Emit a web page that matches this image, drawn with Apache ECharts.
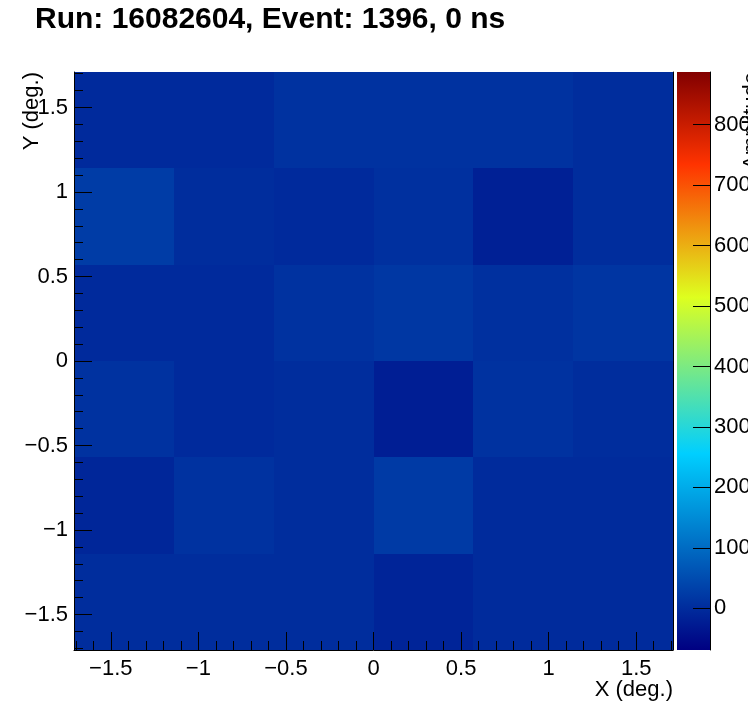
<!DOCTYPE html>
<html>
<head>
<meta charset="utf-8">
<script src="https://cdn.jsdelivr.net/npm/echarts@6/dist/echarts.min.js"></script>
<style>
html,body{margin:0;padding:0;background:#fff;}
#chart{width:748px;height:724px;}
</style>
</head>
<body>
<div id="chart"></div>
<script>
// ---- data ----
const titleText = 'Run: 16082604, Event: 1396, 0 ns';
const xEdges = [-1.71, -1.14, -0.57, 0, 0.57, 1.14, 1.71];
const yEdges = [-1.71, -1.14, -0.57, 0, 0.57, 1.14, 1.71];
// amplitude per cell, rows from bottom (y bin 1) to top (y bin 6), columns left to right
const row1 = [2, 2, 2, -12, -1, -1];
const row2 = [-9, 9, 2, 22, -1, -1];
const row3 = [9, -3, 2, -22, 9, 2];
const row4 = [-3, -3, 9, 17, 6, 13];
const row5 = [25, 2, -3, 6, -19, 2];
const row6 = [-3, -3, 9, 9, 9, 2];
const rows = [row1, row2, row3, row4, row5, row6];
const zMin = -69, zMax = 887;
const xMajorTicks = [-1.5, -1, -0.5, 0, 0.5, 1, 1.5];
const yMajorTicks = [-1.5, -1, -0.5, 0, 0.5, 1, 1.5];
const xMinorTicks = [-1.7,-1.6,-1.4,-1.3,-1.2,-1.1,-0.9,-0.8,-0.7,-0.6,-0.4,-0.3,-0.2,-0.1,0.1,0.2,0.3,0.4,0.6,0.7,0.8,0.9,1.1,1.2,1.3,1.4,1.6,1.7];
const yMinorTicks = xMinorTicks.slice();
const zTicks = [0, 100, 200, 300, 400, 500, 600, 700, 800];
const xTitle = 'X (deg.)', yTitle = 'Y (deg.)', zTitle = 'Amplitude';

// ---- palette (ROOT-style 5 stop gradient) ----
const palStops = [0.00, 0.34, 0.61, 0.84, 1.00];
const palRGB = [[0,0,130],[0,207,255],[222,255,31],[255,51,0],[130,0,0]];
function palAt(f){
  for (let i=0;i<palStops.length-1;i++){
    if (f<=palStops[i+1]){
      const t=(f-palStops[i])/(palStops[i+1]-palStops[i]);
      const c=palRGB[i].map((a,k)=>Math.round(a+(palRGB[i+1][k]-a)*t));
      return 'rgb('+c.join(',')+')';
    }
  }
  return 'rgb('+palRGB[palRGB.length-1].join(',')+')';
}
const paletteColors=[];
for (let i=0;i<=255;i++) paletteColors.push(palAt(i/255));
// gradient for the colour bar (top = zMax, bottom = zMin)
const barStops = palStops.map((s,i)=>({offset:1-s, color:'rgb('+palRGB[i].join(',')+')'})).reverse();

const cells=[];
rows.forEach((r,j)=>r.forEach((v,i)=>cells.push([xEdges[i],xEdges[i+1],yEdges[j],yEdges[j+1],v])));

const FONT='"Liberation Sans", Arial, Helvetica, sans-serif';
const minusFmt = v => String(v).replace('-', '\u2212');
const lbl = {fontFamily: FONT, fontSize: 22, color: '#000'};

const chart = echarts.init(document.getElementById('chart'), null, {renderer:'canvas'});
chart.setOption({
  animation: false,
  backgroundColor: '#fff',
  grid: [
    {left: 74, top: 72, width: 599, height: 578, show:false, containLabel:false, outerBoundsMode:'none'},
    {left: 677, top: 72, width: 33, height: 578, show:false, containLabel:false, outerBoundsMode:'none'}
  ],
  xAxis: [
    {type:'value', gridIndex:0, min:xEdges[0], max:xEdges[6], position:'bottom', z:10,
     axisLine:{show:true, onZero:false, lineStyle:{color:'#000', width:1}},
     axisTick:{show:true, inside:true, length:18, customValues:xMajorTicks, lineStyle:{color:'#000'}},
     axisLabel:Object.assign({show:true, margin:8, customValues:xMajorTicks, formatter:minusFmt}, lbl),
     splitLine:{show:false}},
    {type:'value', gridIndex:0, min:xEdges[0], max:xEdges[6], position:'bottom', z:10,
     axisLine:{show:false, onZero:false},
     axisTick:{show:true, inside:true, length:9, customValues:xMinorTicks, lineStyle:{color:'#000'}},
     axisLabel:{show:false}, splitLine:{show:false}},
    {type:'value', gridIndex:1, min:0, max:1, show:false}
  ],
  yAxis: [
    {type:'value', gridIndex:0, min:yEdges[0], max:yEdges[6], position:'left', z:10,
     axisLine:{show:true, onZero:false, lineStyle:{color:'#000', width:1}},
     axisTick:{show:true, inside:true, length:18, customValues:yMajorTicks, lineStyle:{color:'#000'}},
     axisLabel:Object.assign({show:true, margin:6, customValues:yMajorTicks, formatter:minusFmt}, lbl),
     splitLine:{show:false}},
    {type:'value', gridIndex:0, min:yEdges[0], max:yEdges[6], position:'left', z:10,
     axisLine:{show:false, onZero:false},
     axisTick:{show:true, inside:true, length:9, customValues:yMinorTicks, lineStyle:{color:'#000'}},
     axisLabel:{show:false}, splitLine:{show:false}},
    {type:'value', gridIndex:0, min:yEdges[0], max:yEdges[6], position:'right', z:10,
     axisLine:{show:true, onZero:false, lineStyle:{color:'#000', width:1}},
     axisTick:{show:false}, axisLabel:{show:false}, splitLine:{show:false}},
    {type:'value', gridIndex:1, min:zMin, max:zMax, position:'right', z:10,
     axisLine:{show:true, onZero:false, lineStyle:{color:'#000', width:1}},
     axisTick:{show:true, inside:true, length:17, customValues:zTicks, lineStyle:{color:'#000'}},
     axisLabel:Object.assign({show:true, margin:4, customValues:zTicks}, lbl),
     splitLine:{show:false}}
  ],
  visualMap: {
    type:'continuous', show:false, min:zMin, max:zMax, dimension:4, seriesIndex:0,
    inRange:{color:paletteColors}
  },
  series: [{
    type:'custom', xAxisIndex:0, yAxisIndex:0, silent:true, clip:true,
    encode:{x:[0,1], y:[2,3]},
    data: cells,
    renderItem: function(params, api){
      const p0 = api.coord([api.value(0), api.value(3)]);
      const p1 = api.coord([api.value(1), api.value(2)]);
      const x0=Math.round(p0[0]), y0=Math.round(p0[1]), x1=Math.round(p1[0]), y1=Math.round(p1[1]);
      return {type:'rect', shape:{x:x0, y:y0, width:x1-x0, height:y1-y0},
              style:{fill:api.visual('color'), stroke:null}};
    },
    z:1
  },{
    type:'custom', xAxisIndex:2, yAxisIndex:3, silent:true,
    encode:{x:[0,1], y:[2,3]},
    data: [[0, 1, zMin, zMax]],
    renderItem: function(params, api){
      const p0 = api.coord([api.value(0), api.value(3)]);
      const p1 = api.coord([api.value(1), api.value(2)]);
      return {type:'rect', shape:{x:Math.round(p0[0]), y:Math.round(p0[1]), width:Math.round(p1[0])-Math.round(p0[0]), height:Math.round(p1[1])-Math.round(p0[1])},
              style:{fill:new echarts.graphic.LinearGradient(0,0,0,1,barStops), stroke:null}};
    },
    z:1
  }],
  graphic: [
    {type:'text', left:35, top:5, style:{text:titleText, font:'bold 30px '+FONT, fill:'#000'}},
    {type:'text', x:673, y:690, style:{text:xTitle, font:'22px '+FONT, fill:'#000', align:'right', verticalAlign:'middle'}},
    {type:'text', x:32, y:72, rotation:Math.PI/2, style:{text:yTitle, font:'22px '+FONT, fill:'#000', align:'right', verticalAlign:'middle'}},
    {type:'text', x:752, y:72, rotation:Math.PI/2, style:{text:zTitle, font:'22px '+FONT, fill:'#000', align:'right', verticalAlign:'middle'}}
  ]
});
</script>
</body>
</html>
